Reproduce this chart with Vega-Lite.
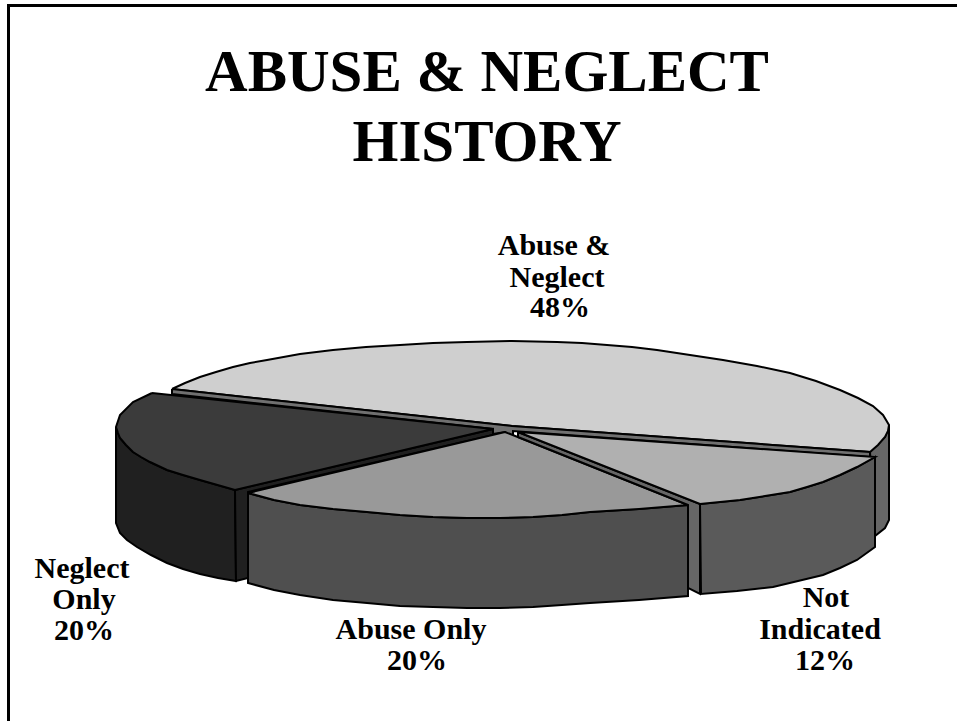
{"$schema":"https://vega.github.io/schema/vega-lite/v6.json","width":957,"height":721,"padding":0,"autosize":"none","background":"white","view":{"stroke":null},
"datasets":{
"frame":[{"i":0,"x":957,"y":5.5},{"i":1,"x":8.5,"y":5.5},{"i":2,"x":8.5,"y":721}],
"poly":[
{"part":"a_side","i":0,"x":870,"y":452},{"part":"a_side","i":1,"x":885,"y":437},{"part":"a_side","i":2,"x":889,"y":425},{"part":"a_side","i":3,"x":889,"y":520},{"part":"a_side","i":4,"x":885,"y":528},{"part":"a_side","i":5,"x":875,"y":536},{"part":"a_side","i":6,"x":870,"y":452},
{"part":"b_top","i":0,"x":172,"y":389},{"part":"b_top","i":1,"x":185,"y":383},{"part":"b_top","i":2,"x":200,"y":377},{"part":"b_top","i":3,"x":216,"y":372},{"part":"b_top","i":4,"x":233,"y":367},{"part":"b_top","i":5,"x":250,"y":363},{"part":"b_top","i":6,"x":267,"y":360},{"part":"b_top","i":7,"x":300,"y":354},{"part":"b_top","i":8,"x":333,"y":350},{"part":"b_top","i":9,"x":366,"y":347},{"part":"b_top","i":10,"x":400,"y":345},{"part":"b_top","i":11,"x":433,"y":343},{"part":"b_top","i":12,"x":467,"y":342},{"part":"b_top","i":13,"x":512,"y":341},{"part":"b_top","i":14,"x":557,"y":342},{"part":"b_top","i":15,"x":582,"y":343},{"part":"b_top","i":16,"x":607,"y":345},{"part":"b_top","i":17,"x":632,"y":347},{"part":"b_top","i":18,"x":657,"y":350},{"part":"b_top","i":19,"x":690,"y":355},{"part":"b_top","i":20,"x":723,"y":360},{"part":"b_top","i":21,"x":757,"y":366},{"part":"b_top","i":22,"x":790,"y":373},{"part":"b_top","i":23,"x":816,"y":381},{"part":"b_top","i":24,"x":840,"y":390},{"part":"b_top","i":25,"x":858,"y":398},{"part":"b_top","i":26,"x":873,"y":406},{"part":"b_top","i":27,"x":883,"y":415},{"part":"b_top","i":28,"x":889,"y":425},{"part":"b_top","i":29,"x":888,"y":431},{"part":"b_top","i":30,"x":885,"y":437},{"part":"b_top","i":31,"x":878,"y":445},{"part":"b_top","i":32,"x":870,"y":452},{"part":"b_top","i":33,"x":512,"y":426},{"part":"b_top","i":34,"x":172,"y":389},
{"part":"c_band","i":0,"x":172,"y":389},{"part":"c_band","i":1,"x":512,"y":426},{"part":"c_band","i":2,"x":870,"y":452},{"part":"c_band","i":3,"x":870,"y":457},{"part":"c_band","i":4,"x":513,"y":431},{"part":"c_band","i":5,"x":513,"y":437},{"part":"c_band","i":6,"x":505,"y":432},{"part":"c_band","i":7,"x":493,"y":434},{"part":"c_band","i":8,"x":493,"y":429},{"part":"c_band","i":9,"x":172,"y":394},{"part":"c_band","i":10,"x":172,"y":389},
{"part":"d_nside","i":0,"x":116,"y":427},{"part":"d_nside","i":1,"x":118,"y":433},{"part":"d_nside","i":2,"x":120,"y":438},{"part":"d_nside","i":3,"x":126,"y":445},{"part":"d_nside","i":4,"x":133,"y":452},{"part":"d_nside","i":5,"x":141,"y":457},{"part":"d_nside","i":6,"x":150,"y":462},{"part":"d_nside","i":7,"x":167,"y":470},{"part":"d_nside","i":8,"x":183,"y":475},{"part":"d_nside","i":9,"x":200,"y":480},{"part":"d_nside","i":10,"x":235,"y":490},{"part":"d_nside","i":11,"x":236,"y":581},{"part":"d_nside","i":12,"x":218,"y":578},{"part":"d_nside","i":13,"x":200,"y":574},{"part":"d_nside","i":14,"x":183,"y":569},{"part":"d_nside","i":15,"x":167,"y":563},{"part":"d_nside","i":16,"x":151,"y":555},{"part":"d_nside","i":17,"x":137,"y":547},{"part":"d_nside","i":18,"x":127,"y":540},{"part":"d_nside","i":19,"x":120,"y":533},{"part":"d_nside","i":20,"x":116,"y":523},{"part":"d_nside","i":21,"x":116,"y":427},
{"part":"e_ncut","i":0,"x":235,"y":490},{"part":"e_ncut","i":1,"x":493,"y":429},{"part":"e_ncut","i":2,"x":493,"y":435},{"part":"e_ncut","i":3,"x":248,"y":492},{"part":"e_ncut","i":4,"x":248,"y":578},{"part":"e_ncut","i":5,"x":236,"y":581},{"part":"e_ncut","i":6,"x":235,"y":490},
{"part":"f_ntop","i":0,"x":152,"y":393},{"part":"f_ntop","i":1,"x":133,"y":402},{"part":"f_ntop","i":2,"x":120,"y":415},{"part":"f_ntop","i":3,"x":116,"y":427},{"part":"f_ntop","i":4,"x":118,"y":433},{"part":"f_ntop","i":5,"x":120,"y":438},{"part":"f_ntop","i":6,"x":126,"y":445},{"part":"f_ntop","i":7,"x":133,"y":452},{"part":"f_ntop","i":8,"x":141,"y":457},{"part":"f_ntop","i":9,"x":150,"y":462},{"part":"f_ntop","i":10,"x":167,"y":470},{"part":"f_ntop","i":11,"x":183,"y":475},{"part":"f_ntop","i":12,"x":200,"y":480},{"part":"f_ntop","i":13,"x":235,"y":490},{"part":"f_ntop","i":14,"x":493,"y":429},{"part":"f_ntop","i":15,"x":152,"y":393},
{"part":"g_aside","i":0,"x":248,"y":493},{"part":"g_aside","i":1,"x":274,"y":500},{"part":"g_aside","i":2,"x":300,"y":505},{"part":"g_aside","i":3,"x":333,"y":509},{"part":"g_aside","i":4,"x":367,"y":512},{"part":"g_aside","i":5,"x":400,"y":515},{"part":"g_aside","i":6,"x":433,"y":517},{"part":"g_aside","i":7,"x":467,"y":518},{"part":"g_aside","i":8,"x":500,"y":518},{"part":"g_aside","i":9,"x":533,"y":517},{"part":"g_aside","i":10,"x":562,"y":515},{"part":"g_aside","i":11,"x":590,"y":512},{"part":"g_aside","i":12,"x":639,"y":509},{"part":"g_aside","i":13,"x":688,"y":505},{"part":"g_aside","i":14,"x":688,"y":596},{"part":"g_aside","i":15,"x":639,"y":600},{"part":"g_aside","i":16,"x":590,"y":603},{"part":"g_aside","i":17,"x":562,"y":605},{"part":"g_aside","i":18,"x":533,"y":607},{"part":"g_aside","i":19,"x":500,"y":608},{"part":"g_aside","i":20,"x":467,"y":608},{"part":"g_aside","i":21,"x":433,"y":607},{"part":"g_aside","i":22,"x":400,"y":606},{"part":"g_aside","i":23,"x":367,"y":603},{"part":"g_aside","i":24,"x":333,"y":600},{"part":"g_aside","i":25,"x":300,"y":595},{"part":"g_aside","i":26,"x":274,"y":590},{"part":"g_aside","i":27,"x":248,"y":583},{"part":"g_aside","i":28,"x":248,"y":493},
{"part":"h_atop","i":0,"x":248,"y":493},{"part":"h_atop","i":1,"x":274,"y":500},{"part":"h_atop","i":2,"x":300,"y":505},{"part":"h_atop","i":3,"x":333,"y":509},{"part":"h_atop","i":4,"x":367,"y":512},{"part":"h_atop","i":5,"x":400,"y":515},{"part":"h_atop","i":6,"x":433,"y":517},{"part":"h_atop","i":7,"x":467,"y":518},{"part":"h_atop","i":8,"x":500,"y":518},{"part":"h_atop","i":9,"x":533,"y":517},{"part":"h_atop","i":10,"x":562,"y":515},{"part":"h_atop","i":11,"x":590,"y":512},{"part":"h_atop","i":12,"x":639,"y":509},{"part":"h_atop","i":13,"x":688,"y":505},{"part":"h_atop","i":14,"x":505,"y":432},{"part":"h_atop","i":15,"x":248,"y":493},
{"part":"i_nicut","i":0,"x":518,"y":432},{"part":"i_nicut","i":1,"x":700,"y":504},{"part":"i_nicut","i":2,"x":700,"y":594},{"part":"i_nicut","i":3,"x":688,"y":588},{"part":"i_nicut","i":4,"x":688,"y":505},{"part":"i_nicut","i":5,"x":518,"y":437},{"part":"i_nicut","i":6,"x":518,"y":432},
{"part":"j_niside","i":0,"x":700,"y":504},{"part":"j_niside","i":1,"x":720,"y":502},{"part":"j_niside","i":2,"x":740,"y":500},{"part":"j_niside","i":3,"x":765,"y":496},{"part":"j_niside","i":4,"x":790,"y":492},{"part":"j_niside","i":5,"x":807,"y":487},{"part":"j_niside","i":6,"x":823,"y":482},{"part":"j_niside","i":7,"x":840,"y":475},{"part":"j_niside","i":8,"x":857,"y":467},{"part":"j_niside","i":9,"x":875,"y":457},{"part":"j_niside","i":10,"x":875,"y":547},{"part":"j_niside","i":11,"x":857,"y":560},{"part":"j_niside","i":12,"x":840,"y":568},{"part":"j_niside","i":13,"x":823,"y":575},{"part":"j_niside","i":14,"x":798,"y":581},{"part":"j_niside","i":15,"x":773,"y":587},{"part":"j_niside","i":16,"x":737,"y":591},{"part":"j_niside","i":17,"x":701,"y":594},{"part":"j_niside","i":18,"x":700,"y":504},
{"part":"k_nitop","i":0,"x":518,"y":432},{"part":"k_nitop","i":1,"x":875,"y":457},{"part":"k_nitop","i":2,"x":857,"y":467},{"part":"k_nitop","i":3,"x":840,"y":475},{"part":"k_nitop","i":4,"x":823,"y":482},{"part":"k_nitop","i":5,"x":807,"y":487},{"part":"k_nitop","i":6,"x":790,"y":492},{"part":"k_nitop","i":7,"x":765,"y":496},{"part":"k_nitop","i":8,"x":740,"y":500},{"part":"k_nitop","i":9,"x":720,"y":502},{"part":"k_nitop","i":10,"x":700,"y":504},{"part":"k_nitop","i":11,"x":518,"y":432}
],
"labels":[
{"t":"ABUSE & NEGLECT","x":487,"y":91,"s":59},{"t":"HISTORY","x":487,"y":161,"s":59},
{"t":"Abuse &","x":554,"y":255,"s":30},{"t":"Neglect","x":557,"y":287,"s":30},{"t":"48%","x":560,"y":317,"s":30},
{"t":"Neglect","x":82,"y":578,"s":30},{"t":"Only","x":84,"y":609,"s":30},{"t":"20%","x":84,"y":640,"s":30},
{"t":"Abuse Only","x":411,"y":639,"s":30},{"t":"20%","x":417,"y":670,"s":30},
{"t":"Not","x":826,"y":607,"s":30},{"t":"Indicated","x":820,"y":639,"s":30},{"t":"12%","x":825,"y":670,"s":30}
]},
"layer":[
{"data":{"name":"frame"},"mark":{"type":"line","stroke":"black","strokeWidth":3,"strokeJoin":"miter","clip":false},
"encoding":{"x":{"field":"x","type":"quantitative","scale":{"domain":[0,957]},"axis":null},"y":{"field":"y","type":"quantitative","scale":{"domain":[721,0]},"axis":null},"order":{"field":"i"}}},
{"data":{"name":"poly"},"mark":{"type":"line","filled":true,"stroke":"black","strokeWidth":2,"strokeJoin":"miter"},
"encoding":{"x":{"field":"x","type":"quantitative","scale":{"domain":[0,957]},"axis":null},"y":{"field":"y","type":"quantitative","scale":{"domain":[721,0]},"axis":null},"order":{"field":"i"},
"fill":{"field":"part","type":"nominal","legend":null,"scale":{"domain":["a_side","b_top","c_band","d_nside","e_ncut","f_ntop","g_aside","h_atop","i_nicut","j_niside","k_nitop"],"range":["#666666","#cfcfcf","#707070","#202020","#202020","#3b3b3b","#4f4f4f","#999999","#666666","#5a5a5a","#b0b0b0"]}}}},
{"data":{"name":"labels"},"mark":{"type":"text","font":"Liberation Serif","fontWeight":"bold","align":"center","baseline":"alphabetic","color":"black"},
"encoding":{"x":{"field":"x","type":"quantitative","scale":{"domain":[0,957]},"axis":null},"y":{"field":"y","type":"quantitative","scale":{"domain":[721,0]},"axis":null},"text":{"field":"t"},"size":{"field":"s","type":"quantitative","scale":null,"legend":null}}}
]}
